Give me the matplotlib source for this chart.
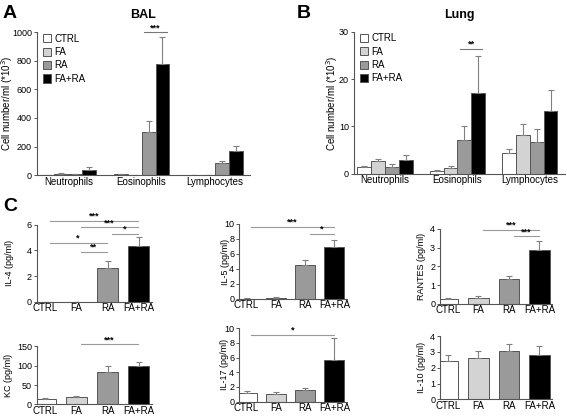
import numpy as np
import matplotlib
matplotlib.use('Agg')
import matplotlib.pyplot as plt

plt.rcParams['font.family'] = ['Liberation Sans', 'DejaVu Sans']

groups = ['CTRL', 'FA', 'RA', 'FA+RA']
cells = ['Neutrophils', 'Eosinophils', 'Lymphocytes']
colors = ['white', '#d3d3d3', '#9a9a9a', 'black']

# panel A (BAL), mean and top of error bar, one row per group
bal_mean = [[2, 5, 3], [10, 2, 3], [5, 300, 85], [35, 775, 170]]
bal_top = [[3, 8, 4], [15, 3, 4], [7, 380, 100], [55, 965, 205]]

# panel B (Lung)
lung_mean = [[1.4, 0.6, 4.4], [2.7, 1.2, 8.1], [1.4, 7.2, 6.7], [2.9, 17.0, 13.3]]
lung_top = [[1.6, 0.8, 5.2], [3.2, 1.6, 10.6], [2.0, 10.1, 9.4], [3.9, 24.8, 17.8]]

# panel C cytokines
il4 = [0.02, 0.02, 2.65, 4.35]
il4_top = [0.03, 0.03, 3.15, 5.05]
il5 = [0.05, 0.15, 4.55, 6.9]
il5_top = [0.07, 0.25, 5.15, 7.8]
rantes = [0.25, 0.32, 1.32, 2.9]
rantes_top = [0.32, 0.4, 1.48, 3.35]
kc = [14, 19, 84, 98]
kc_top = [16, 23, 98, 108]
il17 = [1.2, 1.0, 1.6, 5.7]
il17_top = [1.5, 1.25, 1.9, 8.6]
il10 = [2.4, 2.62, 3.05, 2.83]
il10_top = [2.8, 3.05, 3.5, 3.35]

edge = '#555555'
errc = '#808080'
W, H = 567.0, 417.0


def style(ax):
    for s in ['top', 'right']:
        ax.spines[s].set_visible(False)
    for s in ['left', 'bottom']:
        ax.spines[s].set_color(edge)
        ax.spines[s].set_linewidth(0.8)
    ax.tick_params(axis='y', length=2.5, width=0.7, color=edge, labelsize=6.5, pad=1)
    ax.tick_params(axis='x', length=0, labelsize=7, pad=1)


def label_at(ax, rect, px):
    # right edge of the rotated y label at a given pixel column
    ax.yaxis.set_label_coords((px / W - rect[0]) / rect[2], 0.5)


fig = plt.figure(figsize=(5.67, 4.17), dpi=100)


def cell_panel(rect, mean, top, ymax, yticks, title, sig, sig_y, lab_px):
    ax = fig.add_axes(rect)
    w = 0.19
    x = np.arange(len(cells))
    for i, g in enumerate(groups):
        m = np.array(mean[i])
        t = np.array(top[i])
        ax.bar(x + (i - 1.5) * w, m, w, color=colors[i], edgecolor=edge, linewidth=0.7,
               yerr=[np.zeros_like(m), t - m], ecolor=errc, capsize=2.5,
               error_kw={'elinewidth': 0.8, 'capthick': 0.8}, label=g)
    ax.set_xlim(-0.43, 2.48)
    ax.set_ylim(0, ymax)
    ax.set_yticks(yticks)
    ax.set_xticks(x)
    ax.set_xticklabels(cells)
    ax.set_ylabel('Cell number/ml (*10$^3$)', fontsize=7)
    label_at(ax, rect, lab_px)
    style(ax)
    ax.set_title(title, fontsize=9, fontweight='bold', pad=10)
    ax.legend(loc='upper left', bbox_to_anchor=(0.0, 1.03), frameon=False, fontsize=7,
              handlelength=0.9, handleheight=0.9, handletextpad=0.3, labelspacing=0.35,
              borderaxespad=0.2)
    # significance
    gi, star = sig
    x0 = gi + 0.5 * w
    x1 = gi + 1.5 * w
    ax.plot([x0 - 0.06, x1 + 0.06], [sig_y, sig_y], color='#777777', lw=0.8, clip_on=False)
    ax.text((x0 + x1) / 2, sig_y, star, ha='center', va='bottom', fontsize=6.5,
            fontweight='bold', clip_on=False)
    return ax


cell_panel([0.065, 0.580, 0.376, 0.343], bal_mean, bal_top, 1000, [0, 200, 400, 600, 800, 1000],
           'BAL', (1, '***'), 1000, 15)
cell_panel([0.624, 0.583, 0.372, 0.341], lung_mean, lung_top, 30, [0, 10, 20, 30],
           'Lung', (1, '**'), 26.4, 340)


def cyto_panel(rect, mean, top, ymax, yticks, ylabel, sigs, lab_px):
    ax = fig.add_axes(rect)
    x = np.arange(len(groups))
    m = np.array(mean)
    t = np.array(top)
    ax.bar(x, m, 0.68, color=colors, edgecolor=edge, linewidth=0.7,
           yerr=[np.zeros_like(m), t - m], ecolor=errc, capsize=2.5,
           error_kw={'elinewidth': 0.8, 'capthick': 0.8})
    ax.set_xlim(-0.26, 3.42)
    ax.set_ylim(0, ymax)
    ax.set_yticks(yticks)
    ax.set_xticks(x)
    ax.set_xticklabels(groups)
    ax.set_ylabel(ylabel, fontsize=6.5)
    label_at(ax, rect, lab_px)
    style(ax)
    for i, j, y, star in sigs:
        ax.plot([i + 0.15, j - 0.03], [y, y], color='#999999', lw=0.8, clip_on=False)
        ax.text((i + j) / 2 + 0.06, y, star, ha='center', va='bottom', fontsize=6.5,
                fontweight='bold', clip_on=False)
    return ax


r = [0.065, 0.276, 0.203, 0.185]
cyto_panel(r, il4, il4_top, 6, [0, 2, 4, 6], 'IL-4 (pg/ml)',
           [(0, 3, 6.3, '***'), (1, 3, 5.8, '***'), (2, 3, 5.3, '*'), (0, 2, 4.6, '*'), (1, 2, 3.9, '**')], 14)
r = [0.4215, 0.283, 0.19, 0.18]
cyto_panel(r, il5, il5_top, 10, [0, 2, 4, 6, 8, 10], 'IL-5 (pg/ml)',
           [(0, 3, 9.6, '***'), (2, 3, 8.7, '*')], 230)
r = [0.776, 0.271, 0.198, 0.18]
cyto_panel(r, rantes, rantes_top, 4, [0, 1, 2, 3, 4], 'RANTES (pg/ml)',
           [(1, 3, 3.95, '***'), (2, 3, 3.6, '***')], 426)
r = [0.065, 0.030, 0.203, 0.140]
cyto_panel(r, kc, kc_top, 150, [0, 50, 100, 150], 'KC (pg/ml)',
           [(1, 3, 155, '***')], 13)
r = [0.4215, 0.037, 0.19, 0.176]
cyto_panel(r, il17, il17_top, 10, [0, 2, 4, 6, 8, 10], 'IL-17 (pg/ml)',
           [(0, 3, 9.1, '*')], 229)
r = [0.776, 0.042, 0.198, 0.152]
cyto_panel(r, il10, il10_top, 4, [0, 1, 2, 3, 4], 'IL-10 (pg/ml)', [], 426)

fig.text(3 / W, 1 - 18 / H, 'A', fontsize=14, fontweight='bold', ha='left', va='baseline')
fig.text(297 / W, 1 - 18 / H, 'B', fontsize=14, fontweight='bold', ha='left', va='baseline')
fig.text(3 / W, 1 - 211 / H, 'C', fontsize=14, fontweight='bold', ha='left', va='baseline')

fig.savefig('out.png', dpi=100)
